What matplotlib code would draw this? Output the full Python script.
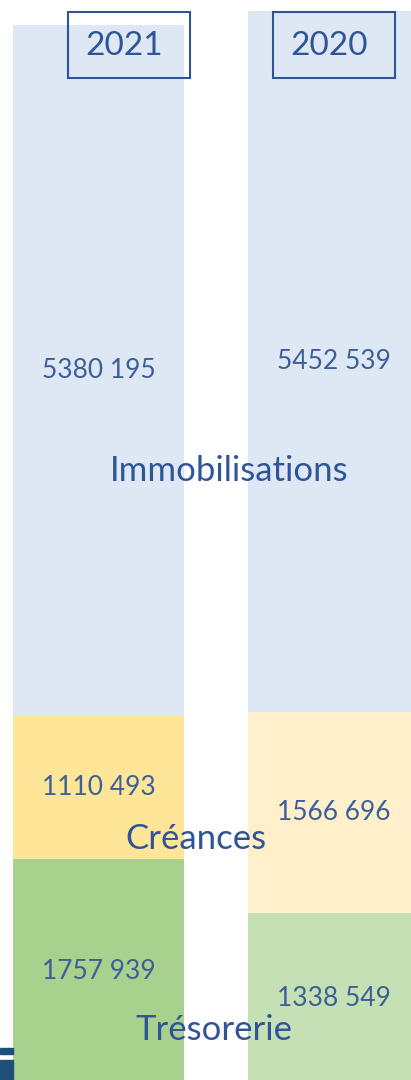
import matplotlib.pyplot as plt
from matplotlib.patches import Rectangle

plt.rcParams['font.family'] = ['Lato', 'DejaVu Sans']

years = ['2021', '2020']
categories = ['Immobilisations', 'Créances', 'Trésorerie']
tresorerie = [1757939, 1338549]
creances = [1110493, 1566696]
immobilisations = [5380195, 5452539]

colors_immo = ['#DEE8F4', '#DEE8F4']
colors_crea = ['#FFE597', '#FFF0CB']
colors_treso = ['#A9D18E', '#C5E0B4']

txt_dark = '#2F5597'
txt_val = '#3D5F99'

fig = plt.figure(figsize=(4.11, 10.8), dpi=100)
ax = fig.add_axes([0, 0, 1, 1])
ax.set_xlim(-0.419, 1.330)
ax.set_ylim(36600, 8446500)
ax.axis('off')

x = [0, 1]
w = 0.728
bot2 = [t + c for t, c in zip(tresorerie, creances)]
ax.bar(x, tresorerie, width=w, color=colors_treso)
ax.bar(x, creances, width=w, bottom=tresorerie, color=colors_crea)
ax.bar(x, immobilisations, width=w, bottom=bot2, color=colors_immo)

def fmt(v):
    s = f"{v:,}".replace(',', ' ')
    # "5 380 195" -> "5380 195" like the original
    return s.replace(' ', '', 1) if v >= 1000000 else s

for i in x:
    ax.text(i, tresorerie[i] / 2, fmt(tresorerie[i]), ha='center', va='center', fontsize=19, color=txt_val)
    ax.text(i, tresorerie[i] + creances[i] / 2, fmt(creances[i]), ha='center', va='center', fontsize=19, color=txt_val)
    ax.text(i, bot2[i] + immobilisations[i] / 2, fmt(immobilisations[i]), ha='center', va='center', fontsize=19, color=txt_val)

# category labels placed across the bars
lab_pos = [(229 / 411, 1 - 471 / 1080), (196 / 411, 1 - 839 / 1080), (214 / 411, 1 - 1030 / 1080)]
for name, (px, py) in zip(categories, lab_pos):
    fig.text(px, py, name, ha='center', va='center', fontsize=25, color=txt_dark)

# year boxes
for yr, bx in zip(years, [68, 273]):
    fig.patches.append(Rectangle((bx / 411, 1 - 78 / 1080), 122 / 411, 66 / 1080,
                                 transform=fig.transFigure, fill=False,
                                 edgecolor=txt_dark, linewidth=1.5))
    fig.text((bx + 56) / 411, 1 - 46 / 1080, yr, ha='center', va='center', fontsize=24, color=txt_dark)

# small logo fragment at bottom left
fig.patches.append(Rectangle((0, 1 - 1054 / 1080), 13 / 411, 6 / 1080, transform=fig.transFigure,
                             color='#1F4E79'))
fig.patches.append(Rectangle((0, 0), 13 / 411, 20 / 1080, transform=fig.transFigure,
                             color='#1F4E79'))

fig.savefig('out.png', dpi=100)
